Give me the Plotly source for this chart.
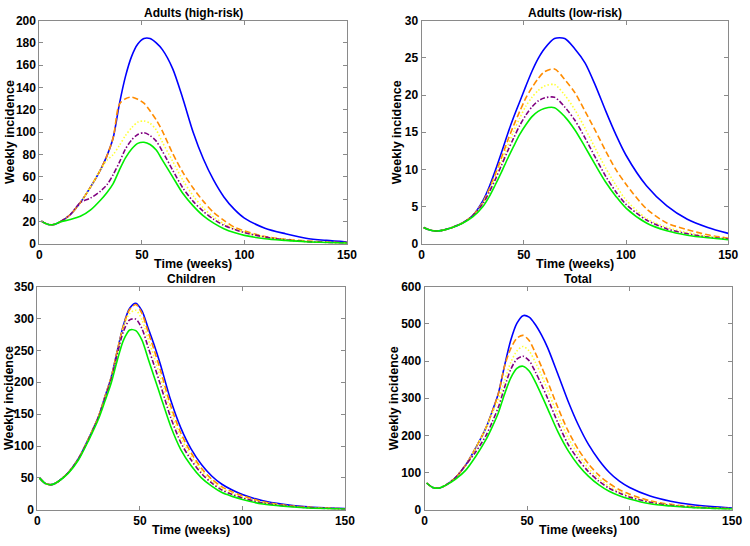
import plotly.graph_objects as go

# ---------------- data ----------------
weeks = [1, 4, 7, 10, 15, 20, 25, 30, 33, 36, 39, 42, 45, 48, 51, 54, 57, 60,
         65, 70, 75, 80, 85, 90, 95, 100, 110, 120, 130, 140, 150]

scenario_names = ["Scenario 1", "Scenario 2", "Scenario 3", "Scenario 4", "Scenario 5"]
scenario_colors = ["#0000ff", "#ff8c00", "#ffff33", "#800080", "#00ee00"]
scenario_dashes = ["solid", "6px,3px", "1.5px,2px", "5px,2px,1.5px,2px", "solid"]

# Adults (high-risk)
hr_blue = [20.3, 17.5, 17.2, 19.5, 26, 37, 51, 67, 79, 95, 125, 150, 168, 179, 184, 184, 180, 174,
           157, 130, 100, 76, 57, 42, 31, 23, 14, 9, 5, 3, 1.6]
hr_orange = [20.3, 17.5, 17.2, 19.5, 26, 37, 51, 67, 79, 95, 125, 130, 131.5, 129.5, 126, 119, 111, 101,
             81, 64, 50, 38, 28, 21, 15, 11.5, 6.5, 4, 2.5, 1.5, 1]
hr_yellow = [20.3, 17.5, 17.2, 19.5, 26, 37, 51, 67, 75, 80, 88, 97, 104, 109, 110, 108, 102, 91,
             74, 57, 43, 32, 24, 18, 13.5, 10.5, 6, 3.5, 2, 1.2, 0.8]
hr_purple = [20.3, 17.5, 17.2, 19.5, 26, 37, 41, 47.5, 53, 62, 73, 85, 93, 98, 99.5, 97, 92, 83,
             66, 50, 38, 29, 22, 16.5, 13, 10, 6, 3.5, 2, 1.2, 0.7]
hr_green = [20.3, 17.5, 17.2, 19.5, 21.7, 24.6, 30.4, 39.5, 46, 54, 66, 77, 85, 90, 91, 89, 84, 75,
            60, 45, 34, 25, 18.5, 13.5, 10, 7.5, 4.5, 3, 1.8, 1.1, 0.6]

# Adults (low-risk)
lr_blue = [2.2, 1.85, 1.72, 1.8, 2.2, 2.8, 3.8, 5.8, 7.6, 9.8, 12.2, 14.7, 17.0, 19.1, 21.2, 23.2, 24.9, 26.2,
           27.6, 27.6, 26.2, 24.3, 21.3, 17.9, 14.7, 11.9, 7.8, 5.1, 3.3, 2.2, 1.4]
lr_orange = [2.2, 1.85, 1.72, 1.8, 2.2, 2.8, 3.8, 5.6, 7.3, 9.3, 11.5, 13.8, 15.9, 17.8, 19.6, 21.0, 22.2, 23.1,
             23.5, 22.1, 20.3, 17.8, 15.2, 12.5, 10.0, 8.0, 4.7, 2.8, 1.9, 1.2, 0.75]
lr_yellow = [2.2, 1.85, 1.72, 1.8, 2.2, 2.8, 3.8, 5.5, 7.1, 9.0, 11.0, 13.1, 15.1, 16.9, 18.5, 19.7, 20.6, 21.2,
             21.4, 20.0, 18.0, 15.5, 12.8, 10.2, 7.9, 5.9, 3.4, 2.2, 1.5, 1.0, 0.65]
lr_purple = [2.2, 1.85, 1.72, 1.8, 2.2, 2.8, 3.8, 5.4, 6.9, 8.6, 10.5, 12.4, 14.2, 15.9, 17.3, 18.4, 19.2, 19.6,
             19.7, 18.4, 16.6, 14.2, 11.6, 9.1, 7.0, 5.3, 3.2, 2.0, 1.35, 0.9, 0.65]
lr_green = [2.2, 1.85, 1.72, 1.8, 2.2, 2.75, 3.6, 5.0, 6.3, 7.9, 9.6, 11.4, 13.1, 14.7, 16.0, 17.1, 17.8, 18.2,
            18.3, 17.1, 15.3, 13.0, 10.6, 8.3, 6.4, 4.8, 2.8, 1.75, 1.15, 0.8, 0.55]

# Children
ch_blue = [50, 41, 39.5, 44, 58, 80, 112, 148, 178, 208, 250, 290, 316, 324, 312, 285, 258, 228,
           172, 128, 95, 71, 53, 40, 31, 24, 14, 8.5, 5, 3, 1.8]
ch_orange = [50, 41, 39.5, 44, 58, 80, 112, 148, 178, 208, 250, 289, 314, 322, 308, 279, 250, 219,
             163, 120, 89, 65, 48, 36, 28, 22, 12.5, 7.5, 4.5, 2.6, 1.5]
ch_yellow = [50, 41, 39.5, 44, 58, 80, 112, 148, 178, 207, 248, 286, 308, 313, 298, 268, 239, 208,
             155, 113, 84, 61, 45, 34, 26, 20, 11.5, 7, 4, 2.4, 1.4]
ch_purple = [50, 41, 39.5, 44, 58, 80, 111, 147, 176, 205, 245, 280, 298, 299, 284, 255, 226, 196,
             145, 105, 78, 57, 42, 31, 24, 18.5, 10.5, 6.5, 3.8, 2.2, 1.3]
ch_green = [50, 41, 39.5, 44, 57, 78, 109, 144, 171, 199, 235, 266, 282, 281, 266, 237, 208, 179,
            131, 94, 69, 50, 37, 27, 21, 16, 9, 5.5, 3.2, 1.9, 1.1]

# Total
tot_blue = [72, 60, 58, 65, 86, 120, 167, 221, 265, 313, 387, 455, 501, 522, 518, 498, 470, 436,
            365, 292, 228, 175, 134, 101, 77, 60, 37, 23, 14, 8.5, 4.8]
tot_orange = [72, 60, 58, 65, 86, 120, 167, 221, 264, 312, 386, 433, 461, 469, 455, 422, 385, 345,
              275, 212, 162, 123, 93, 71, 54, 42, 24, 14.5, 9, 5.3, 3.2]
tot_yellow = [72, 60, 58, 65, 86, 120, 167, 220, 260, 296, 347, 396, 427, 439, 427, 397, 362, 322,
              254, 194, 148, 111, 84, 63, 48, 37, 21, 12.7, 7.5, 4.6, 2.8]
tot_purple = [72, 60, 58, 65, 86, 120, 156, 200, 236, 276, 329, 377, 405, 413, 401, 371, 337, 300,
              234, 176, 135, 102, 77, 58, 45, 34, 20, 12, 7.2, 4.3, 2.6]
tot_green = [72, 60, 58, 65, 82, 106, 144, 189, 223, 261, 311, 354, 380, 386, 373, 344, 309, 272,
             210, 159, 120, 90, 67, 50, 38, 29, 16, 10, 6, 3.8, 2.2]

panels = [
    ("Adults (high-risk)", [hr_blue, hr_orange, hr_yellow, hr_purple, hr_green], 200, 20),
    ("Adults (low-risk)", [lr_blue, lr_orange, lr_yellow, lr_purple, lr_green], 30, 5),
    ("Children", [ch_blue, ch_orange, ch_yellow, ch_purple, ch_green], 350, 50),
    ("Total", [tot_blue, tot_orange, tot_yellow, tot_purple, tot_green], 600, 100),
]

# ---------------- layout (pixel geometry of the 750x546 page) ----------------
W, H = 750, 546
# plot boxes: (left, right, top, bottom) in pixels
boxes = [(37, 350, 14, 243), (426, 738, 14, 243), (35, 348, 287, 516), (429, 742, 287, 516)]
ytitle_x = [7, 401, 6, 398]

fig = go.Figure()
FONT = "Liberation Sans, Arial, sans-serif"
axis_color = "#8a8a8a"

annotations = []
for i, (title, series, ymax, ydt) in enumerate(panels):
    k = "" if i == 0 else str(i + 1)
    xa, ya = "x" + k, "y" + k
    for s, vals in enumerate(series):
        fig.add_trace(go.Scatter(
            x=weeks, y=vals, mode="lines", name=scenario_names[s], showlegend=False,
            line=dict(color=scenario_colors[s], width=1.6, dash=scenario_dashes[s],
                      shape="spline", smoothing=0.8),
            xaxis=xa, yaxis=ya, hoverinfo="skip"))
    l, r, t, b = boxes[i]
    common = dict(showgrid=False, zeroline=False, showline=True, linecolor=axis_color,
                  linewidth=1, mirror="ticks", ticks="inside", ticklen=4, tickcolor=axis_color,
                  tickfont=dict(family=FONT, size=12, color="black", weight="bold"))
    fig.layout["xaxis" + k] = dict(domain=[l / W, r / W], range=[0, 150], dtick=50, tick0=0,
                                   anchor=ya, **common)
    fig.layout["yaxis" + k] = dict(domain=[1 - b / H, 1 - t / H], range=[0, ymax], dtick=ydt,
                                   tick0=0, anchor=xa, **common)
    cx = (l + r) / 2
    annotations.append(dict(text=title, x=cx / W, y=1 - (t - 7.5) / H, xref="paper", yref="paper",
                            xanchor="center", yanchor="middle", showarrow=False,
                            font=dict(family=FONT, size=12, color="black", weight="bold")))
    annotations.append(dict(text="Time (weeks)", x=cx / W, y=1 - (b + 21) / H, xref="paper",
                            yref="paper", xanchor="center", yanchor="middle", showarrow=False,
                            font=dict(family=FONT, size=12.5, color="black", weight="bold")))
    annotations.append(dict(text="Weekly incidence", x=ytitle_x[i] / W, y=1 - ((t + b) / 2) / H,
                            xref="paper", yref="paper", xanchor="center", yanchor="middle",
                            textangle=-90, showarrow=False,
                            font=dict(family=FONT, size=12.5, color="black", weight="bold")))

fig.update_layout(width=W, height=H, margin=dict(l=0, r=0, t=0, b=0),
                  paper_bgcolor="white", plot_bgcolor="white", showlegend=False,
                  annotations=annotations)

fig.write_html("out.html")
